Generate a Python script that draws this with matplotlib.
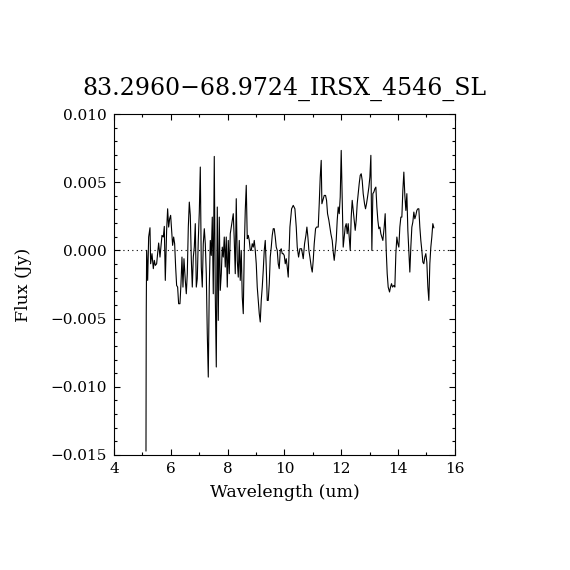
import numpy as np
import matplotlib
matplotlib.use('Agg')
import matplotlib.pyplot as plt
from matplotlib.ticker import MultipleLocator, FuncFormatter

#
# Spectrum (wavelength in um, flux in mJy)
#
title = '83.2960\u221268.9724_IRSX_4546_SL'

wave = [5.126, 5.135, 5.149, 5.185, 5.220, 5.267, 5.290, 5.337, 5.384, 5.419,
        5.454, 5.501, 5.536, 5.572, 5.619, 5.654, 5.689, 5.736, 5.771, 5.806,
        5.853, 5.888, 5.924, 5.959, 5.994, 6.029, 6.064, 6.100, 6.135, 6.170,
        6.205, 6.240, 6.275, 6.322, 6.358, 6.393, 6.428, 6.463, 6.510, 6.545,
        6.580, 6.616, 6.651, 6.686, 6.721, 6.756, 6.792, 6.827, 6.862, 6.897,
        6.932, 6.967, 7.003, 7.038, 7.073, 7.108, 7.143, 7.179, 7.214, 7.249,
        7.284, 7.319, 7.354, 7.390, 7.425, 7.460, 7.495, 7.530, 7.565, 7.601,
        7.636, 7.671, 7.706, 7.741, 7.777, 7.812, 7.847, 7.882, 7.917, 7.952,
        7.988, 8.023, 8.058, 8.093, 8.128, 8.164, 8.199, 8.234, 8.269, 8.304,
        8.339, 8.375, 8.410, 8.445, 8.480, 8.515, 8.551, 8.586, 8.621, 8.656,
        8.691, 8.727, 8.762, 8.797, 8.832, 8.867, 8.903, 8.938, 8.973, 9.008,
        9.043, 9.078, 9.114, 9.149, 9.184, 9.219, 9.254, 9.290, 9.325, 9.360,
        9.395, 9.430, 9.466, 9.501, 9.536, 9.571, 9.606, 9.641, 9.677, 9.712,
        9.747, 9.782, 9.817, 9.853, 9.888, 9.923, 9.958, 9.993, 10.029, 10.064,
        10.099, 10.134, 10.169, 10.193, 10.252, 10.310, 10.369, 10.416, 10.451, 10.498,
        10.545, 10.603, 10.662, 10.709, 10.756, 10.791, 10.826, 10.861, 10.897, 10.944,
        10.979, 11.014, 11.049, 11.096, 11.131, 11.190, 11.225, 11.260, 11.295, 11.319,
        11.354, 11.401, 11.448, 11.483, 11.518, 11.565, 11.600, 11.635, 11.682, 11.718,
        11.753, 11.788, 11.823, 11.858, 11.893, 11.929, 11.964, 11.999, 12.034, 12.069,
        12.105, 12.140, 12.175, 12.210, 12.245, 12.281, 12.316, 12.351, 12.386, 12.421,
        12.457, 12.492, 12.527, 12.562, 12.597, 12.632, 12.668, 12.703, 12.738, 12.773,
        12.820, 12.855, 12.890, 12.926, 12.973, 13.008, 13.043, 13.078, 13.113, 13.149,
        13.184, 13.219, 13.254, 13.289, 13.324, 13.360, 13.395, 13.430, 13.465, 13.512,
        13.547, 13.583, 13.618, 13.653, 13.700, 13.735, 13.770, 13.805, 13.852, 13.887,
        13.923, 13.958, 13.993, 14.028, 14.063, 14.099, 14.134, 14.169, 14.204, 14.239,
        14.275, 14.310, 14.345, 14.380, 14.415, 14.450, 14.486, 14.521, 14.556, 14.591,
        14.626, 14.661, 14.697, 14.732, 14.767, 14.802, 14.837, 14.873, 14.908, 14.943,
        14.978, 15.013, 15.049, 15.084, 15.119, 15.154, 15.189, 15.224, 15.260]

flux_mjy = [-14.70, -4.64, 0.00, -2.20, 0.98, 1.66, -0.98, -0.24, -1.34, -0.73,
            -1.10, -0.98, -0.24, 0.54, -0.49, 0.29, 1.10, 0.98, 1.76, -2.20,
            1.47, 3.05, 1.71, 2.32, 2.57, 1.47, 0.37, 0.98, 0.49, -1.22,
            -2.57, -2.69, -3.91, -3.91, -2.44, -0.49, -2.69, -0.61, -2.20, -3.18,
            -1.71, 1.71, 3.54, 2.57, -0.61, -2.69, -0.49, 0.24, 1.96, -2.69,
            -2.08, 0.73, 2.81, 6.11, -1.22, -2.69, 0.49, 1.59, 0.49, -1.71,
            -6.11, -9.29, -2.69, 0.73, -0.37, 2.44, -3.18, 6.89, -3.18, -8.55,
            3.18, -5.13, 2.44, -2.93, -1.71, 0.24, -0.49, 0.98, -1.22, 0.98,
            -2.69, 0.73, -1.71, 1.22, 1.71, 2.20, 2.69, 0.73, -1.71, 3.79,
            -0.73, -1.96, 0.73, -2.20, 0.00, -3.42, -4.64, 0.00, 2.93, 4.77,
            0.86, 1.10, 0.73, 0.00, 0.00, 0.49, 0.24, 0.73, 0.00, -0.98,
            -2.69, -3.67, -4.64, -5.25, -3.67, -2.69, -1.47, 0.00, 0.73, -1.22,
            -3.67, -3.67, -2.44, -0.49, 0.24, 1.10, 1.59, 1.59, 0.98, 0.24,
            0.00, -0.98, -1.34, 0.00, 0.12, -0.24, -0.24, -0.37, -0.98, -0.61,
            -1.22, -1.96, 0.37, 1.71, 3.05, 3.30, 3.05, 1.71, 0.24, -0.49,
            0.12, 0.12, -0.61, 0.49, 1.10, 1.71, 0.98, 0.00, -0.49, -1.22,
            -1.59, -0.73, 0.49, 1.59, 1.71, 1.71, 3.42, 5.38, 6.60, 3.42,
            3.67, 4.03, 4.03, 3.67, 2.69, 2.20, 1.71, 1.22, 0.73, -0.12,
            -0.73, 0.00, 0.73, 2.20, 3.18, 2.69, 3.91, 7.33, 3.91, 0.24,
            0.98, 1.71, 1.96, 1.22, 1.96, 0.98, 0.00, 2.44, 3.67, 2.93,
            2.20, 1.47, 2.20, 3.42, 4.16, 4.89, 5.50, 5.62, 5.13, 4.16,
            3.42, 3.05, 3.42, 3.91, 4.64, 5.38, 6.97, 0.00, 4.16, 4.28,
            4.52, 4.64, 3.18, 2.20, 1.59, 1.71, 1.22, 0.98, 0.73, 1.71,
            2.69, 0.00, -1.71, -2.69, -3.05, -2.69, -2.44, -2.69, -2.57, -2.69,
            -0.24, 0.98, 0.49, 0.24, 1.71, 2.44, 2.44, 4.40, 5.74, 4.03,
            2.93, 4.16, 1.47, 0.00, -1.59, 0.24, 1.71, 2.08, 2.81, 2.32,
            2.57, 2.93, 3.05, 3.05, 1.71, 0.73, 0.00, -0.86, -0.98, -0.49,
            -0.24, -0.86, -2.69, -3.67, -0.98, 0.24, 0.98, 1.96, 1.66]

wave = np.array(wave)
flux = np.array(flux_mjy) / 1000.  # Jy

plt.rcParams['font.family'] = 'DejaVu Serif'

fig = plt.figure(figsize=(5.7, 5.7), dpi=100)
ax = fig.add_axes([0.2, 0.2018, 0.598, 0.5982])

ax.plot(wave, flux, color='k', lw=0.8)
ax.axhline(0., color='k', lw=0.8, ls=(0, (1, 3)))

ax.set_xlim(4, 16)
ax.set_ylim(-0.015, 0.010)
ax.xaxis.set_major_locator(MultipleLocator(2))
ax.xaxis.set_minor_locator(MultipleLocator(1))
ax.yaxis.set_major_locator(MultipleLocator(0.005))
ax.yaxis.set_minor_locator(MultipleLocator(0.001))
ax.yaxis.set_major_formatter(
    FuncFormatter(lambda v, p: ('%.3f' % v).replace('-', '\u2212')))
ax.tick_params(which='both', direction='in', top=True, right=True,
               labelsize=11, width=0.8, color='k')
ax.tick_params(which='major', length=4, pad=5)
ax.tick_params(which='minor', length=2)
for s in ax.spines.values():
    s.set_linewidth(0.8)

ax.set_xlabel('Wavelength (um)', fontsize=12.5, labelpad=6)
ax.set_ylabel('Flux (Jy)', fontsize=12.5, labelpad=13)
ax.set_title(title, fontsize=17, pad=14)

fig.savefig('out.png', dpi=100, facecolor='white')
